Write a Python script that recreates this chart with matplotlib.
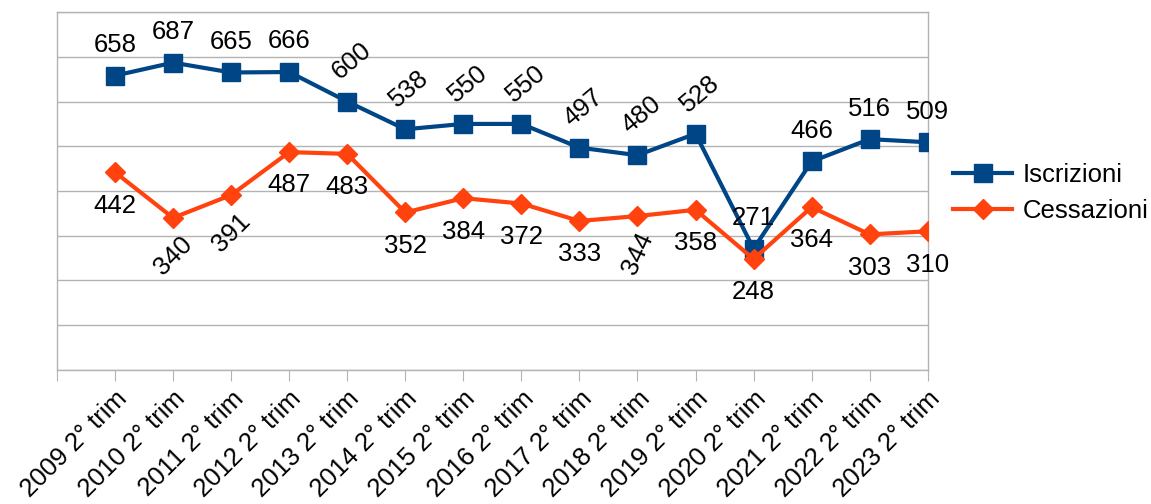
import numpy as np
import matplotlib.pyplot as plt

plt.rcParams['font.family'] = ['Liberation Sans', 'DejaVu Sans']

categories = ["2009 2° trim", "2010 2° trim", "2011 2° trim", "2012 2° trim",
              "2013 2° trim", "2014 2° trim", "2015 2° trim", "2016 2° trim",
              "2017 2° trim", "2018 2° trim", "2019 2° trim", "2020 2° trim",
              "2021 2° trim", "2022 2° trim", "2023 2° trim"]
iscrizioni = [658, 687, 665, 666, 600, 538, 550, 550, 497, 480, 528, 271, 466, 516, 509]
cessazioni = [442, 340, 391, 487, 483, 352, 384, 372, 333, 344, 358, 248, 364, 303, 310]

# label rotation as drawn in the original
rot_isc = [0, 0, 0, 0, 40, 40, 40, 40, 40, 40, 40, 0, 0, 0, 0]
rot_ces = [0, 45, 45, 0, 0, 0, 0, 0, 0, 65, 0, 0, 0, 0, 0]

blue = "#004586"
orange = "#ff420e"
grid = "#b3b3b3"
fs = 18.5

fig = plt.figure(figsize=(11.51, 5.04), dpi=100)
ax = fig.add_axes([0.0495, 0.266, 0.7565, 0.71])
x = np.arange(len(categories))

ax.plot(x, iscrizioni, color=blue, lw=3, marker="s", ms=13, label="Iscrizioni", zorder=3)
ax.plot(x, cessazioni, color=orange, lw=3, marker="D", ms=10, label="Cessazioni", zorder=3)

for i in x:
    off = (3, 29) if rot_isc[i] else (0, 22)
    ax.annotate(str(iscrizioni[i]), (i, iscrizioni[i]), xytext=off, textcoords="offset points",
                ha="center", va="center", fontsize=fs, rotation=rot_isc[i])
    off = (0, -27) if rot_ces[i] else (0, -24)
    ax.annotate(str(cessazioni[i]), (i, cessazioni[i]), xytext=off, textcoords="offset points",
                ha="center", va="center", fontsize=fs, rotation=rot_ces[i])

ax.set_xlim(-1, len(categories) - 1)
ax.set_ylim(0, 800)
ax.set_yticks(np.arange(0, 801, 100))
ax.set_yticklabels([])
ax.tick_params(axis="y", length=0)
ax.grid(axis="y", color=grid, lw=1)
ax.set_axisbelow(True)
for s in ax.spines.values():
    s.set_color(grid)
    s.set_linewidth(1)

ax.set_xticks(np.arange(-1, len(categories)))
ax.set_xticklabels([""] + categories, rotation=45, ha="right", rotation_mode="anchor", fontsize=fs)
ax.tick_params(axis="x", length=8, color=grid, pad=4)

fig.legend(loc="center left", bbox_to_anchor=(0.828, 0.617), frameon=False, fontsize=fs,
           handlelength=2.3, handletextpad=0.4, labelspacing=0.5,
           borderpad=0, borderaxespad=0)

fig.savefig("out.png", dpi=100)
